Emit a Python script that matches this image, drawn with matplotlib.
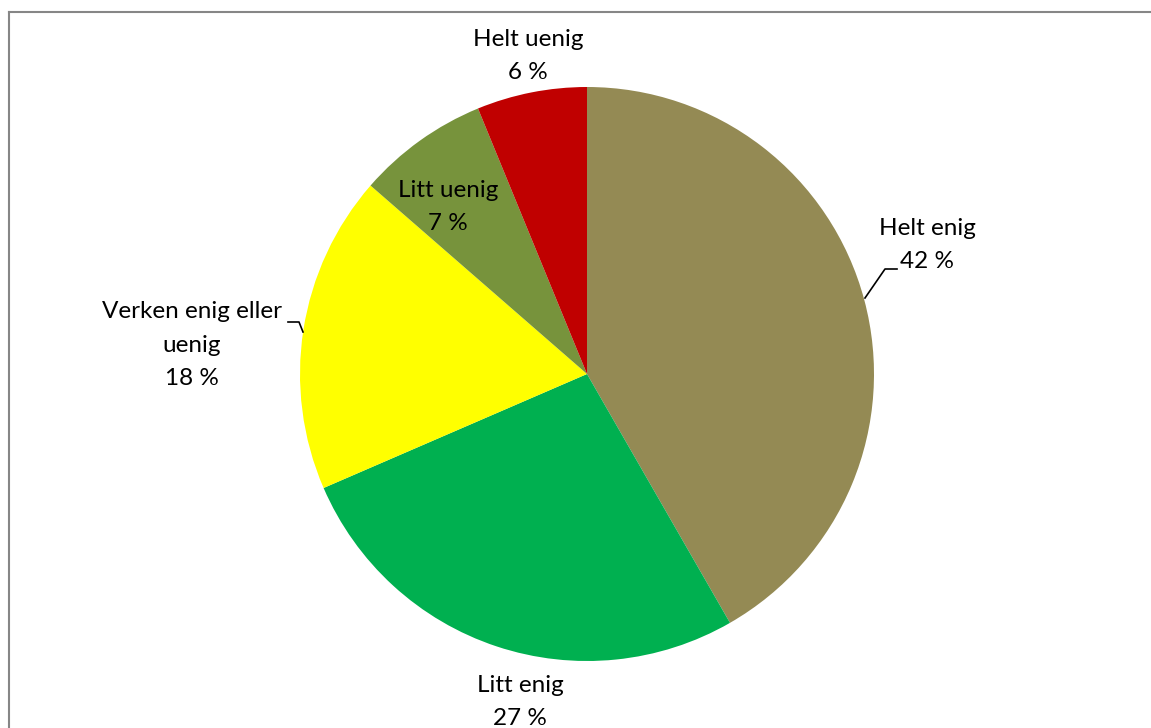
import matplotlib.pyplot as plt
from matplotlib.lines import Line2D

# data
labels = ["Helt enig", "Litt enig", "Verken enig eller\nuenig", "Litt uenig", "Helt uenig"]
values = [41.7, 26.8, 17.9, 7.4, 6.2]
colors = ["#948A54", "#00B050", "#FFFF00", "#77933C", "#C00000"]

W, H = 1151, 728
fig = plt.figure(figsize=(W / 100, H / 100), dpi=100)
ax = fig.add_axes([0, 0, 1, 1])

cx, cy, r = 587, H - 374, 287
ax.pie(values, colors=colors, startangle=90, counterclock=False,
       center=(cx, cy), radius=r, frame=True,
       wedgeprops=dict(linewidth=0))
ax.set_xlim(0, W)
ax.set_ylim(0, H)
ax.set_aspect("equal")
ax.axis("off")

# outer frame (only top & left visible in the crop)
fig.add_artist(Line2D([9 / W, 1], [1 - 12 / H, 1 - 12 / H], color="#868686", lw=1.5))
fig.add_artist(Line2D([9 / W, 9 / W], [0, 1 - 12 / H], color="#868686", lw=1.5))

# label positions in pixels (top-left origin)
pos = [(927, 245), (520, 702), (192, 345), (448, 207), (528, 56)]
font = dict(family="Lato", fontsize=17.5, color="black")
for lab, v, (x, y) in zip(labels, values, pos):
    ax.text(x, H - y, f"{lab}\n{round(v)} %", ha="center", va="center",
            linespacing=1.72, **font)

# leader lines
ax.plot([865, 885, 897], [H - 298, H - 269, H - 269], color="black", lw=1.2)
ax.plot([288, 299, 303], [H - 322, H - 322, H - 332], color="black", lw=1.2)

fig.savefig("out.png", dpi=100)
